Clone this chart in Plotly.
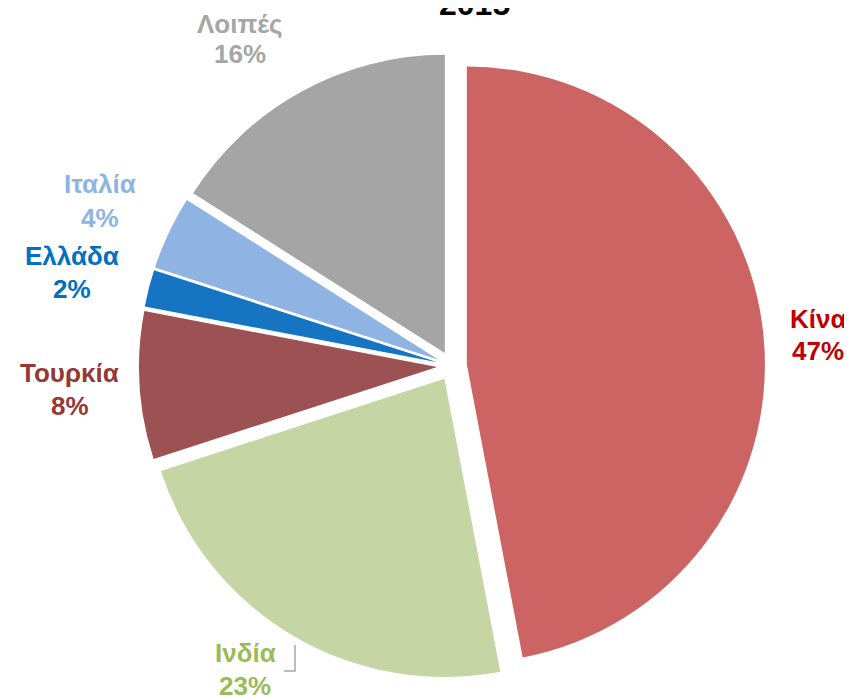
import plotly.graph_objects as go

labels = ["Κίνα", "Ινδία", "Τουρκία", "Ελλάδα", "Ιταλία", "Λοιπές"]
values = [47, 23, 8, 2, 4, 16]
slice_colors = ["#CD6464", "#C5D6A4", "#9C5252", "#1575C2", "#8FB4E3", "#A5A5A5"]
label_colors = ["#C00000", "#9BBB59", "#953735", "#0070C0", "#8DB4E2", "#A6A6A6"]
title_text = "2015"

# label anchor positions (pixels): x, y of name line, y of percent line
label_pos = [(810, 311, 343), (237, 645, 678), (62, 365, 398),
             (64, 248, 281), (92, 176, 210), (232, 16, 46)]

W, H = 852, 697
FONT = "Liberation Sans, Arial"

fig = go.Figure(go.Pie(
    labels=labels, values=values, sort=False, direction="clockwise", rotation=0,
    marker=dict(colors=slice_colors, line=dict(color="white", width=0)),
    pull=[0.05] * len(values), textinfo="none", showlegend=False,
    domain=dict(x=[131 / W, 757 / W], y=[1 - 671 / H, 1 - 45 / H]),
))

for lab, v, c, (px, py1, py2) in zip(labels, values, label_colors, label_pos):
    for txt, py in ((lab, py1), (f"{v}%", py2)):
        fig.add_annotation(
            x=px / W, y=1 - py / H, xref="paper", yref="paper",
            text=f"<b>{txt}</b>", showarrow=False,
            font=dict(family=FONT, size=26, color=c),
            xanchor="center", yanchor="middle", align="center",
        )

# leader line for India
fig.add_shape(type="path", xref="paper", yref="paper",
              path=f"M {276/W} {1-663/H} L {287/W} {1-663/H} L {287/W} {1-637/H}",
              line=dict(color="#A6A6A6", width=1.5))

fig.add_annotation(
    x=466 / W, y=1 + 4 / H, xref="paper", yref="paper", text=f"<b>{title_text}</b>",
    showarrow=False, font=dict(family=FONT, size=32, color="black"),
    xanchor="center", yanchor="middle",
)

fig.update_layout(width=W, height=H, margin=dict(l=0, r=0, t=0, b=0),
                  paper_bgcolor="white", plot_bgcolor="white")
fig.write_html("out.html")
